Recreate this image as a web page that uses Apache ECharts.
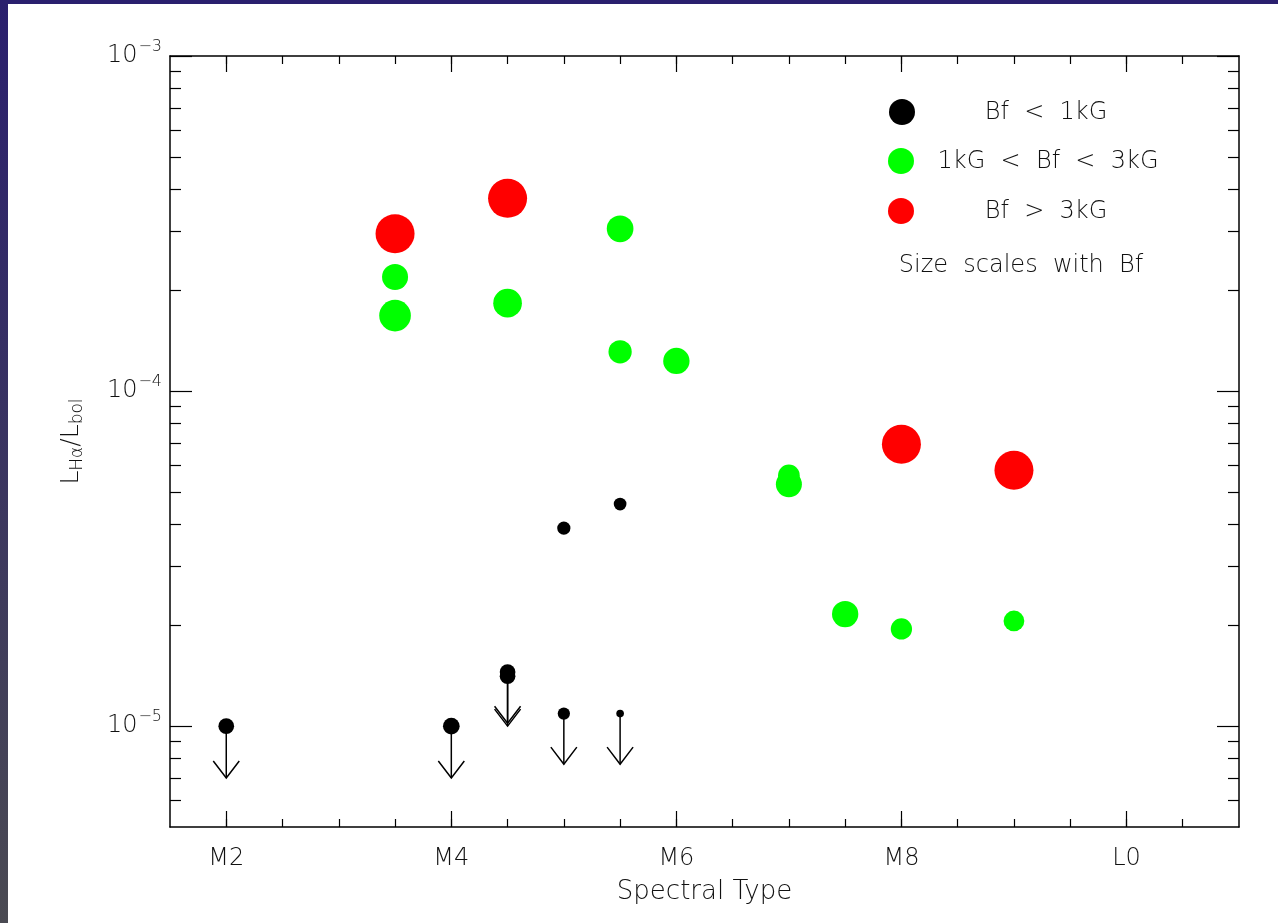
<!DOCTYPE html>
<html><head><meta charset="utf-8">
<script src="https://cdn.jsdelivr.net/npm/echarts@6/dist/echarts.min.js"></script>
<style>html,body{margin:0;padding:0;background:#fff;} #c{width:1278px;height:923px;}</style>
</head><body><div id="c"></div>
<script>
// Spectral type as number: M0 = 0 ... M9 = 9, L0 = 10
const xTickValues = [2, 4, 6, 8, 10];
const xTickLabels = ['M2', 'M4', 'M6', 'M8', 'L0'];
const yTickValues = [1e-5, 1e-4, 1e-3];

// Bf < 1kG, detections  [spectral type, L_Ha/L_bol, estimated Bf (kG)]
const lowX = [5, 5.5];
const lowY = [3.9e-5, 4.6e-5];
const lowBf = [0.66, 0.61];

// Bf < 1kG, upper limits (arrow drawn down to limArrowTo)
const limX = [2, 4, 4.5, 4.5, 5, 5.5];
const limY = [1.0e-5, 1.0e-5, 1.45e-5, 1.41e-5, 1.09e-5, 1.09e-5];
const limArrowTo = [7.0e-6, 7.0e-6, 1.02e-5, 1.0e-5, 7.7e-6, 7.7e-6];
const limBf = [0.88, 0.97, 0.88, 0.88, 0.57, 0.15];

// 1kG < Bf < 3kG
const midX = [3.5, 3.5, 4.5, 5.5, 5.5, 6, 7, 7, 7.5, 8, 9];
const midY = [2.19e-4, 1.68e-4, 1.83e-4, 3.05e-4, 1.31e-4, 1.23e-4, 5.6e-5, 5.27e-5, 2.16e-5, 1.95e-5, 2.06e-5];
const midBf = [1.82, 2.33, 2.06, 1.88, 1.57, 1.85, 1.43, 1.82, 1.85, 1.39, 1.34];

// Bf > 3kG
const highX = [3.5, 4.5, 8, 9];
const highY = [2.95e-4, 3.76e-4, 6.94e-5, 5.8e-5];
const highBf = [3.3, 3.4, 3.3, 3.3];

const legendLabels = ['Bf  <  1kG', '1kG  <  Bf  <  3kG', 'Bf  >  3kG'];
const legendNote = 'Size  scales  with  Bf';
const xName = 'Spectral Type';

const FONT = '"DejaVu Sans ExtraLight", "DejaVu Sans", sans-serif';
const TXT = '#111';

function sizeFromBf(bf) { return 6 + 11 * Math.min(bf, 3); }
function zip(xs, ys, bs) { return xs.map((x, i) => [x, ys[i], bs[i]]); }

// minor ticks
const xMinor = [];
for (let v = 2; v <= 10.5; v += 0.5) xMinor.push(v);
const yMinor = [];
for (let e = -6; e <= -4; e++) for (let k = 2; k <= 9; k++) {
  const v = k * Math.pow(10, e);
  if (v >= 5e-6 && v <= 1e-3) yMinor.push(v);
}

const xBase = { type: 'value', min: 1.5, max: 11, splitLine: { show: false }, axisLabel: { show: false } };
const yBase = { type: 'log', logBase: 10, min: 5e-6, max: 1e-3, splitLine: { show: false }, axisLabel: { show: false } };
const lineStyleAx = { color: '#000', width: 1.5 };
const tickStyle = { color: '#000', width: 1.2 };
const W = 200;

const chart = echarts.init(document.getElementById('c'), null, { renderer: 'canvas' });
chart.setOption({
  backgroundColor: '#fff',
  animation: false,
  grid: { left: 170, right: 39, top: 56, bottom: 96, containLabel: false },
  xAxis: [
    Object.assign({}, xBase, {
      position: 'bottom',
      axisLine: { show: true, lineStyle: lineStyleAx },
      axisTick: { show: true, inside: true, length: 16, lineStyle: tickStyle, customValues: xTickValues },
      axisLabel: { show: true, customValues: xTickValues, margin: 20, fontFamily: FONT, fontWeight: W, fontSize: 24, color: TXT,
        formatter: v => xTickLabels[xTickValues.indexOf(Math.round(v))] },
      name: xName, nameLocation: 'middle', nameGap: 52, nameMoveOverlap: false,
      nameTextStyle: { fontFamily: FONT, fontWeight: W, fontSize: 26, color: TXT }
    }),
    Object.assign({}, xBase, {
      position: 'bottom', axisLine: { show: false },
      axisTick: { show: true, inside: true, length: 8, lineStyle: tickStyle, customValues: xMinor }
    }),
    Object.assign({}, xBase, {
      position: 'top', axisLine: { show: true, lineStyle: lineStyleAx },
      axisTick: { show: true, inside: true, length: 16, lineStyle: tickStyle, customValues: xTickValues }
    }),
    Object.assign({}, xBase, {
      position: 'top', axisLine: { show: false },
      axisTick: { show: true, inside: true, length: 8, lineStyle: tickStyle, customValues: xMinor }
    })
  ],
  yAxis: [
    Object.assign({}, yBase, {
      position: 'left',
      axisLine: { show: true, lineStyle: lineStyleAx },
      axisTick: { show: true, inside: true, length: 22, lineStyle: tickStyle, customValues: yTickValues },
      axisLabel: { show: true, customValues: yTickValues, margin: 8, color: TXT,
        formatter: v => '{b|10}{s|−' + Math.round(-Math.log10(v)) + '}',
        rich: {
          b: { fontFamily: FONT, fontWeight: W, fontSize: 24, color: TXT },
          s: { fontFamily: FONT, fontWeight: W, fontSize: 16, color: TXT, padding: [0, 0, 18, 1] }
        }
      },
      name: 'L{s|Hα}/L{s|bol}', nameLocation: 'middle', nameGap: 84, nameMoveOverlap: false,
      nameTextStyle: { fontFamily: FONT, fontWeight: W, fontSize: 25, color: TXT,
        rich: { s: { fontFamily: FONT, fontWeight: W, fontSize: 17, color: TXT, padding: [12, 0, 0, 0] } } }
    }),
    Object.assign({}, yBase, {
      position: 'left', axisLine: { show: false },
      axisTick: { show: true, inside: true, length: 11, lineStyle: tickStyle, customValues: yMinor }
    }),
    Object.assign({}, yBase, {
      position: 'right', axisLine: { show: true, lineStyle: lineStyleAx },
      axisTick: { show: true, inside: true, length: 22, lineStyle: tickStyle, customValues: yTickValues }
    }),
    Object.assign({}, yBase, {
      position: 'right', axisLine: { show: false },
      axisTick: { show: true, inside: true, length: 11, lineStyle: tickStyle, customValues: yMinor }
    })
  ],
  graphic: [
    { type: 'rect', left: 0, top: 0, z: 100, shape: { width: 1278, height: 4 }, style: { fill: '#2a1f6e' } },
    { type: 'rect', left: 0, top: 0, z: 100, shape: { width: 8, height: 923 },
      style: { fill: new echarts.graphic.LinearGradient(0, 0, 0, 1, [
        { offset: 0, color: '#2a1f6e' }, { offset: 1, color: '#4a4a52' }]) } },
    { type: 'circle', shape: { cx: 902, cy: 112, r: 13 }, style: { fill: '#000' } },
    { type: 'circle', shape: { cx: 901, cy: 161, r: 13 }, style: { fill: '#00ff00' } },
    { type: 'circle', shape: { cx: 901, cy: 211, r: 13 }, style: { fill: '#ff0000' } },
    { type: 'text', x: 1046, y: 113, style: { text: legendLabels[0], font: W + ' 24px ' + FONT, fill: TXT, align: 'center', verticalAlign: 'middle' } },
    { type: 'text', x: 1048, y: 162, style: { text: legendLabels[1], font: W + ' 24px ' + FONT, fill: TXT, align: 'center', verticalAlign: 'middle' } },
    { type: 'text', x: 1046, y: 212, style: { text: legendLabels[2], font: W + ' 24px ' + FONT, fill: TXT, align: 'center', verticalAlign: 'middle' } },
    { type: 'text', x: 1021, y: 266, style: { text: legendNote, font: W + ' 24px ' + FONT, fill: TXT, align: 'center', verticalAlign: 'middle' } }
  ],
  series: [
    {
      type: 'custom', name: 'limits', xAxisIndex: 0, yAxisIndex: 0, silent: true, z: 1,
      data: limX.map((x, i) => [x, limY[i], limArrowTo[i]]),
      renderItem: (params, api) => {
        const p0 = api.coord([api.value(0), api.value(1)]);
        const p1 = api.coord([api.value(0), api.value(2)]);
        return { type: 'group', children: [
          { type: 'line', shape: { x1: p0[0], y1: p0[1], x2: p1[0], y2: p1[1] }, style: { stroke: '#000', lineWidth: 1.5 } },
          { type: 'polyline', shape: { points: [[p1[0] - 13, p1[1] - 17], [p1[0], p1[1]], [p1[0] + 13, p1[1] - 17]] },
            style: { stroke: '#000', fill: null, lineWidth: 1.5 } }
        ] };
      }
    },
    { type: 'scatter', name: 'Bf < 1kG (limits)', z: 3, silent: true, data: zip(limX, limY, limBf),
      symbolSize: v => sizeFromBf(v[2]), itemStyle: { color: '#000', opacity: 1 } },
    { type: 'scatter', name: 'Bf < 1kG', z: 3, silent: true, data: zip(lowX, lowY, lowBf),
      symbolSize: v => sizeFromBf(v[2]), itemStyle: { color: '#000', opacity: 1 } },
    { type: 'scatter', name: '1kG < Bf < 3kG', z: 3, silent: true, data: zip(midX, midY, midBf),
      symbolSize: v => sizeFromBf(v[2]), itemStyle: { color: '#00ff00', opacity: 1 } },
    { type: 'scatter', name: 'Bf > 3kG', z: 3, silent: true, data: zip(highX, highY, highBf),
      symbolSize: v => sizeFromBf(v[2]), itemStyle: { color: '#ff0000', opacity: 1 } }
  ]
});
</script></body></html>
